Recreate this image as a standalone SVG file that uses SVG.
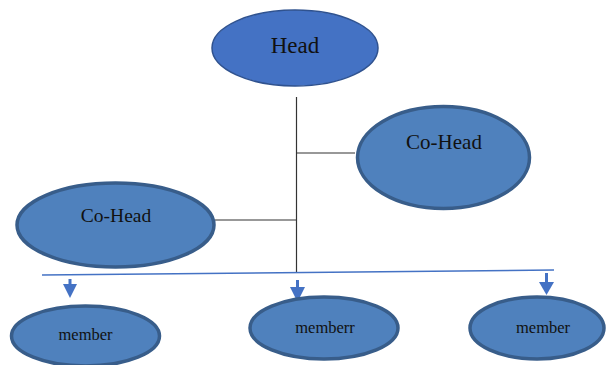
<svg xmlns="http://www.w3.org/2000/svg" width="606" height="365" viewBox="0 0 606 365">
<defs>
<style>
.n{fill:#4F81BD;stroke:#385D8A;stroke-width:3.5}
.h{fill:#4472C4;stroke:#2F528F;stroke-width:1.5}
.t{font-family:"Liberation Serif","Times New Roman",serif;fill:#111;text-anchor:middle}
.k{stroke:#333;stroke-width:1.2;fill:none}
.b{stroke:#4472C4;stroke-width:1.5;fill:none}
.s{stroke:#4472C4;stroke-width:3;fill:none}
.a{fill:#4472C4}
</style>
</defs>
<rect width="606" height="365" fill="#fff"/>
<g id="connectors">
<line class="k" x1="296.5" y1="97" x2="296.5" y2="272"/>
<line class="k" x1="297" y1="153" x2="355" y2="153"/>
<line class="k" x1="215" y1="220" x2="296" y2="220"/>
<line class="b" x1="42" y1="275" x2="554" y2="270"/>
<line class="s" x1="70" y1="279" x2="70" y2="286"/>
<polygon class="a" points="63,284 77,284 70,298"/>
<line class="s" x1="297.5" y1="280" x2="297.5" y2="288"/>
<polygon class="a" points="290,287 305,287 297.5,302"/>
<line class="s" x1="546.5" y1="273" x2="546.5" y2="283"/>
<polygon class="a" points="539,282 554,282 546.5,295"/>
</g>
<g id="head">
<ellipse class="h" cx="295" cy="48" rx="83" ry="38"/>
<text class="t" x="295" y="53" font-size="23">Head</text>
</g>
<g id="cohead-right">
<ellipse class="n" cx="443.5" cy="157.5" rx="86" ry="51"/>
<text class="t" x="444" y="149" font-size="21">Co-Head</text>
</g>
<g id="cohead-left">
<ellipse class="n" cx="115.5" cy="225" rx="98.5" ry="42"/>
<text class="t" x="116" y="222" font-size="19.5">Co-Head</text>
</g>
<g id="member-left">
<ellipse class="n" cx="85.5" cy="336" rx="74" ry="30"/>
<text class="t" x="85.5" y="340" font-size="16.5">member</text>
</g>
<g id="member-middle">
<ellipse class="n" cx="324" cy="328" rx="74" ry="31"/>
<text class="t" x="325" y="333" font-size="16.5">memberr</text>
</g>
<g id="member-right">
<ellipse class="n" cx="537" cy="328" rx="67" ry="31"/>
<text class="t" x="543" y="333" font-size="16.5">member</text>
</g>
</svg>
